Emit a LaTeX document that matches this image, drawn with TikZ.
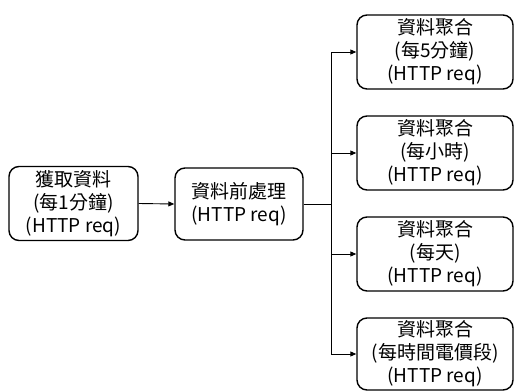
\documentclass[tikz,border=0pt]{standalone}
\usepackage{fontspec}
\setmainfont{Noto Sans CJK TC}
\usetikzlibrary{arrows.meta,calc}
\begin{document}
\begin{tikzpicture}[x=1pt,y=-1pt,
  box/.style={draw,line width=1.4pt,rounded corners=10pt,align=center,
    font=\fontsize{19}{23}\selectfont,inner sep=0pt},
  arr/.style={line width=0.9pt,-{Triangle[length=6pt,width=5pt]}}]
\useasboundingbox (0,0) rectangle (515,391);
\node[box,minimum width=129pt,minimum height=74pt] (A) at (73.5,203.5) {獲取資料\\(每1分鐘)\\(HTTP req)};
\node[box,minimum width=128pt,minimum height=72pt] (B) at (239,204) {資料前處理\\(HTTP req)};
\node[box,minimum width=156pt,minimum height=74pt] (R1) at (435,52) {資料聚合\\(每5分鐘)\\(HTTP req)};
\node[box,minimum width=156pt,minimum height=74pt] (R2) at (435,153) {資料聚合\\(每小時)\\(HTTP req)};
\node[box,minimum width=156pt,minimum height=74pt] (R3) at (435,254) {資料聚合\\(每天)\\(HTTP req)};
\node[box,minimum width=156pt,minimum height=72pt] (R4) at (435,354) {資料聚合\\(每時間電價段)\\(HTTP req)};
\coordinate (j) at (331,204);
\draw[arr] (A.east) -- (B.west);
\draw[line width=0.9pt] (B.east) -- (j);
\draw[arr] (j) |- (R1.west);
\draw[arr] (j) |- (R2.west);
\draw[arr] (j) |- (R3.west);
\draw[arr] (j) |- (R4.west);
\end{tikzpicture}
\end{document}
